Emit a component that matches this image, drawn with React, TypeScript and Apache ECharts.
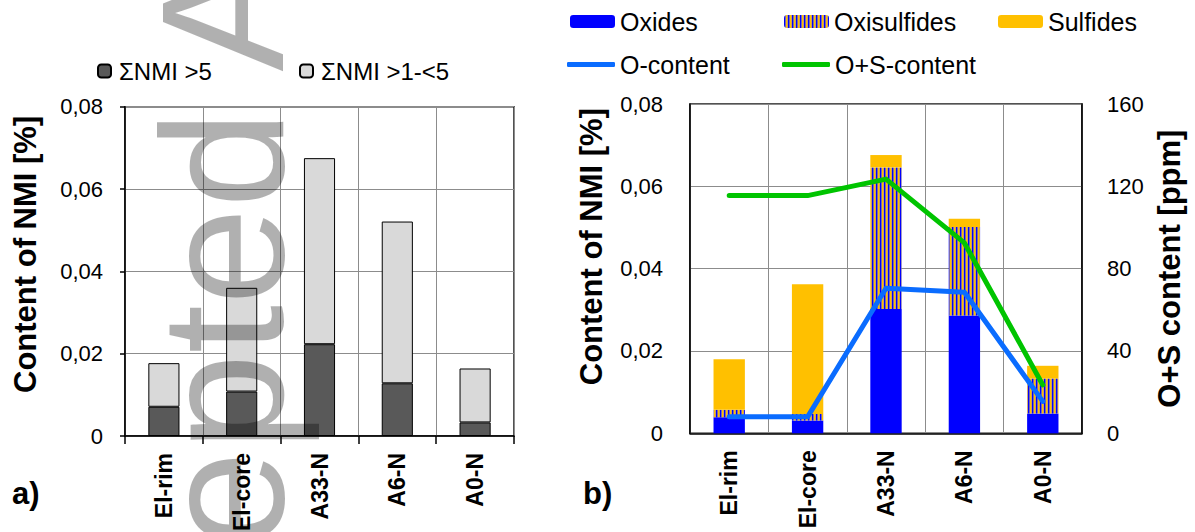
import React, { useEffect, useRef } from "react";
import * as echarts from "echarts";

const categories = ["El-rim", "El-core", "A33-N", "A6-N", "A0-N"];
// panel a) content of NMI [%]
const nmiAbove5 = [0.0071, 0.0108, 0.0223, 0.0128, 0.0033];
const nmi1to5 = [0.0106, 0.0252, 0.0452, 0.0393, 0.0131];
// panel b) content of NMI [%] by type
const oxides = [0.0039, 0.0031, 0.0302, 0.0286, 0.0048];
const oxisulfides = [0.0018, 0.0016, 0.0344, 0.0215, 0.0085];
const sulfides = [0.0123, 0.0315, 0.003, 0.002, 0.0031];
// panel b) gas contents [ppm]
const oContent = [8, 8, 70.5, 68.5, 15.5];
const osContent = [115.5, 115.5, 123.5, 92.5, 23.5];
// axis ticks
const nmiTicks = [0, 0.02, 0.04, 0.06, 0.08];
const ppmTicks = [0, 40, 80, 120, 160];

const FONT = "'Liberation Sans', Arial, Helvetica, sans-serif";
const nmiFmt = (v: number) => (v === 0 ? "0" : v.toFixed(2).replace(".", ","));

function stripes() {
  const c = document.createElement("canvas");
  c.width = 4;
  c.height = 4;
  const ctx = c.getContext("2d")!;
  const cols = ["#0000ff", "#7a6aa8", "#ffc000", "#c9a060"];
  cols.forEach((col, i) => {
    ctx.fillStyle = col;
    ctx.fillRect(i, 0, 1, 4);
  });
  return { image: c.toDataURL(), repeat: "repeat", imageWidth: 4, imageHeight: 4 };
}

export default function App() {
  const ref = useRef<HTMLDivElement>(null);
  useEffect(() => {
    const chart = echarts.init(ref.current!, null, { renderer: "svg" });
    const gridLine = { show: true, lineStyle: { color: "#8c8c8c", width: 1 } };
    const tickLabel = { color: "#000", fontFamily: FONT, fontSize: 22 };
    const catLabel = {
      rotate: 90,
      interval: 0,
      color: "#000",
      fontFamily: FONT,
      fontSize: 23,
      fontWeight: "bold",
    };
    const titleStyle = { color: "#000", fontFamily: FONT, fontSize: 31, fontWeight: "bold" };
    const legendCommon = {
      padding: 0,
      selectedMode: false,
      textStyle: { color: "#000", fontFamily: FONT, fontSize: 25 },
    };
    const pattern = stripes();
    const option: any = {
      animation: false,
      backgroundColor: "#fff",
      grid: [
        {
          left: 125,
          top: 106.7,
          width: 389,
          height: 329.3,
          show: true,
          borderColor: "#1a1a1a",
          borderWidth: 1.5,
          containLabel: false,
          outerBoundsMode: "none",
        },
        {
          left: 690,
          top: 104,
          width: 392,
          height: 329.3,
          show: true,
          borderColor: "#1a1a1a",
          borderWidth: 1.5,
          containLabel: false,
          outerBoundsMode: "none",
        },
      ],
      xAxis: [
        {
          type: "category",
          gridIndex: 0,
          data: categories,
          axisLine: { lineStyle: { color: "#000", width: 1.5 } },
          axisTick: { show: true, interval: 0, length: 8, lineStyle: { color: "#000", width: 1.5 } },
          axisLabel: { ...catLabel, margin: 17 },
          splitLine: { ...gridLine, interval: 0 },
        },
        {
          type: "category",
          gridIndex: 1,
          data: categories,
          axisLine: { lineStyle: { color: "#000", width: 1.5 } },
          axisTick: { show: false },
          axisLabel: { ...catLabel, margin: 17 },
          splitLine: { ...gridLine, interval: 0 },
        },
      ],
      yAxis: [
        {
          type: "value",
          gridIndex: 0,
          min: nmiTicks[0],
          max: nmiTicks[nmiTicks.length - 1],
          interval: nmiTicks[1] - nmiTicks[0],
          axisLine: { show: true, lineStyle: { color: "#000", width: 1.5 } },
          axisTick: { show: true, length: 5, lineStyle: { color: "#000", width: 1.5 } },
          axisLabel: { ...tickLabel, margin: 22, formatter: nmiFmt },
          splitLine: gridLine,
          name: "Content of NMI [%]",
          nameLocation: "middle",
          nameRotate: 90,
          nameGap: 84,
          nameTextStyle: { ...titleStyle, padding: [0, 0, 0, 34] },
        },
        {
          type: "value",
          gridIndex: 1,
          position: "left",
          min: nmiTicks[0],
          max: nmiTicks[nmiTicks.length - 1],
          interval: nmiTicks[1] - nmiTicks[0],
          axisLine: { show: true, lineStyle: { color: "#000", width: 1.5 } },
          axisTick: { show: false },
          axisLabel: { ...tickLabel, margin: 27, formatter: nmiFmt },
          splitLine: gridLine,
          name: "Content of NMI [%]",
          nameLocation: "middle",
          nameRotate: 90,
          nameGap: 83,
          nameTextStyle: { ...titleStyle, padding: [0, 0, 0, 44] },
        },
        {
          type: "value",
          gridIndex: 1,
          position: "right",
          min: ppmTicks[0],
          max: ppmTicks[ppmTicks.length - 1],
          interval: ppmTicks[1] - ppmTicks[0],
          axisLine: { show: true, lineStyle: { color: "#000", width: 1.5 } },
          axisTick: { show: false },
          axisLabel: { ...tickLabel, margin: 25 },
          splitLine: { show: false },
          name: "O+S content [ppm]",
          nameLocation: "middle",
          nameRotate: 90,
          nameGap: 72,
          nameTextStyle: titleStyle,
        },
      ],
      legend: [
        {
          ...legendCommon,
          data: ["ΣNMI >5"],
          left: 97,
          top: 59,
          itemWidth: 13,
          itemHeight: 13,
          textStyle: { ...legendCommon.textStyle, fontSize: 24, padding: [0, 0, 0, 3] },
        },
        {
          ...legendCommon,
          data: ["ΣNMI >1-<5"],
          left: 299,
          top: 59,
          itemWidth: 13,
          itemHeight: 13,
          textStyle: { ...legendCommon.textStyle, fontSize: 24, padding: [0, 0, 0, 3] },
        },
        { ...legendCommon, data: ["Oxides"], left: 570, top: 9, itemWidth: 45, itemHeight: 13 },
        { ...legendCommon, data: ["Oxisulfides"], left: 784, top: 9, itemWidth: 45, itemHeight: 13 },
        { ...legendCommon, data: ["Sulfides"], left: 998, top: 9, itemWidth: 45, itemHeight: 13 },
        {
          ...legendCommon,
          data: [{ name: "O-content", icon: "roundRect" }],
          left: 567,
          top: 52,
          itemWidth: 48,
          itemHeight: 5,
        },
        {
          ...legendCommon,
          data: [{ name: "O+S-content", icon: "roundRect" }],
          left: 782,
          top: 52,
          itemWidth: 48,
          itemHeight: 5,
        },
      ],
      series: [
        {
          name: "ΣNMI >5",
          type: "bar",
          stack: "a",
          xAxisIndex: 0,
          yAxisIndex: 0,
          barWidth: "40%",
          data: nmiAbove5,
          itemStyle: { color: "#595959", borderColor: "#000", borderWidth: 1 },
        },
        {
          name: "ΣNMI >1-<5",
          type: "bar",
          stack: "a",
          xAxisIndex: 0,
          yAxisIndex: 0,
          barWidth: "40%",
          data: nmi1to5,
          itemStyle: { color: "#d9d9d9", borderColor: "#000", borderWidth: 1 },
        },
        {
          name: "Oxides",
          type: "bar",
          stack: "b",
          xAxisIndex: 1,
          yAxisIndex: 1,
          barWidth: "40%",
          data: oxides,
          itemStyle: { color: "#0000ff" },
        },
        {
          name: "Oxisulfides",
          type: "bar",
          stack: "b",
          xAxisIndex: 1,
          yAxisIndex: 1,
          barWidth: "40%",
          data: oxisulfides,
          itemStyle: { color: pattern },
        },
        {
          name: "Sulfides",
          type: "bar",
          stack: "b",
          xAxisIndex: 1,
          yAxisIndex: 1,
          barWidth: "40%",
          data: sulfides,
          itemStyle: { color: "#ffc000" },
        },
        {
          name: "O-content",
          type: "line",
          xAxisIndex: 1,
          yAxisIndex: 2,
          data: oContent,
          symbol: "none",
          color: "#0a6cff",
          lineStyle: { color: "#0a6cff", width: 5, cap: "round", join: "round" },
        },
        {
          name: "O+S-content",
          type: "line",
          xAxisIndex: 1,
          yAxisIndex: 2,
          data: osContent,
          symbol: "none",
          color: "#00c400",
          lineStyle: { color: "#00c400", width: 5, cap: "round", join: "round" },
        },
      ],
      graphic: [
        {
          type: "text",
          left: 12,
          top: 478,
          style: { text: "a)", fill: "#000", font: `bold 31px ${FONT}` },
        },
        {
          type: "text",
          left: 583,
          top: 478,
          style: { text: "b)", fill: "#000", font: `bold 31px ${FONT}` },
        },
        {
          type: "text",
          x: 222,
          y: 840,
          rotation: Math.PI / 2,
          z: 100,
          silent: true,
          style: {
            text: "Accepted Article",
            fill: "rgba(0,0,0,0.31)",
            font: `175px ${FONT}`,
            textAlign: "left",
            textVerticalAlign: "middle",
          },
        },
      ],
    };
    chart.setOption(option);
    return () => chart.dispose();
  }, []);
  return <div ref={ref} style={{ position: "fixed", left: 0, top: 0, width: 1195, height: 532 }} />;
}
